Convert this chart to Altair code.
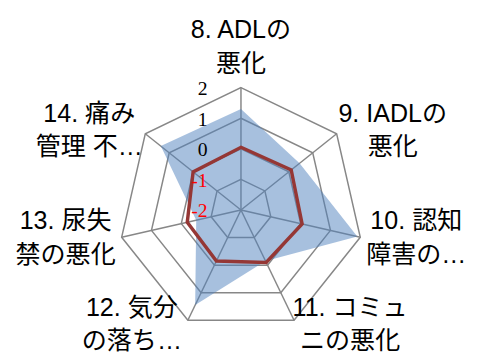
import altair as alt
import pandas as pd
import math

# ---- data ----
categories = ["8. ADLの\n悪化", "9. IADLの\n悪化", "10. 認知\n障害の…", "11. コミュ\nニの悪化",
              "12. 気分\nの落ち…", "13. 尿失\n禁の悪化", "14. 痛み\n管理 不…"]
series_blue = [1.3, 0.45, 1.9, -0.15, 1.45, -0.5, 1.35]
series_red = [0.05, 0.1, 0.05, -0.1, -0.15, -0.2, 0.0]
tick_values = [-2, -1, 0, 1, 2]

N = len(categories)
VMIN = -2

# ---- layout (pixels) ----
W, H = 470, 348
CX, CY = 237, 202.5          # centre of the radar inside the view
K = 124.5 / 4                # pixels per unit
LH = 34                      # label line height

xs = alt.Scale(domain=[-CX / K, (W - CX) / K], nice=False, zero=False)
ys = alt.Scale(domain=[-(H - CY) / K, CY / K], nice=False, zero=False)

ang = f"datum.idx * 2 * PI / {N}"

def pos(r_expr):
    return dict(x=f"({r_expr}) * sin({ang})", y=f"({r_expr}) * cos({ang})")

# grid rings
ring_df = pd.DataFrame([{"level": t, "idx": i} for t in tick_values[1:] for i in range(N)])
rings = alt.Chart(ring_df).transform_calculate(**pos(f"datum.level - {VMIN}")).mark_line(
    interpolate="linear-closed", stroke="#878787", strokeWidth=1.5
).encode(
    x=alt.X("x:Q", scale=xs, axis=None),
    y=alt.Y("y:Q", scale=ys, axis=None),
    detail="level:N",
    order="idx:Q",
)

spoke_df = pd.DataFrame({"idx": list(range(N))})
spokes = alt.Chart(spoke_df).transform_calculate(
    **pos(f"{tick_values[-1]} - {VMIN}"), x0="0", y0="0"
).mark_rule(stroke="#878787", strokeWidth=1.5).encode(
    x=alt.X("x0:Q", scale=xs, axis=None),
    y=alt.Y("y0:Q", scale=ys, axis=None),
    x2="x:Q",
    y2="y:Q",
)

blue_df = pd.DataFrame({"idx": list(range(N)), "value": series_blue})
blue = alt.Chart(blue_df).transform_calculate(**pos(f"datum.value - {VMIN}")).mark_line(
    interpolate="linear-closed", fill="#4f81bd", fillOpacity=0.5, strokeOpacity=0, strokeWidth=0
).encode(
    x=alt.X("x:Q", scale=xs, axis=None),
    y=alt.Y("y:Q", scale=ys, axis=None),
    order="idx:Q",
)

red_df = pd.DataFrame({"idx": list(range(N)), "value": series_red})
red = alt.Chart(red_df).transform_calculate(**pos(f"datum.value - {VMIN}")).mark_line(
    interpolate="linear-closed", stroke="#953735", strokeWidth=3.5, strokeJoin="miter"
).encode(
    x=alt.X("x:Q", scale=xs, axis=None),
    y=alt.Y("y:Q", scale=ys, axis=None),
    order="idx:Q",
)

# category labels
R_OUT = tick_values[-1] - VMIN
lab_df = pd.DataFrame({"idx": list(range(N)), "label": categories})
labels = alt.Chart(lab_df).transform_calculate(
    s=f"sin({ang})", c=f"cos({ang})"
).transform_calculate(
    lx=f"{R_OUT} * datum.s + (abs(datum.s) < 0.01 ? 0 : (datum.s > 0 ? 1 : -1) * {57 / K})",
    ly=f"datum.idx == 0 ? {R_OUT} + {41 / K} : {R_OUT} * datum.c + {5 / K} * datum.c",
).mark_text(
    lineBreak="\n", fontSize=25.5, lineHeight=LH, align="center", baseline="middle",
    dy=-LH / 2, font="Liberation Sans, Noto Sans CJK JP", color="#000000"
).encode(
    x=alt.X("lx:Q", scale=xs, axis=None),
    y=alt.Y("ly:Q", scale=ys, axis=None),
    text="label:N",
)

# radial tick labels
tick_df = pd.DataFrame({"t": tick_values, "txt": [str(v) for v in tick_values]})
ticks = alt.Chart(tick_df).transform_calculate(
    tx=f"{-34 / K}", ty=f"datum.t - {VMIN}"
).mark_text(
    fontSize=20, align="right", baseline="middle", dy=1.5, font="Liberation Serif"
).encode(
    x=alt.X("tx:Q", scale=xs, axis=None),
    y=alt.Y("ty:Q", scale=ys, axis=None),
    text="txt:N",
    color=alt.condition("datum.t < 0", alt.value("#ff0000"), alt.value("#000000")),
)

chart = alt.layer(rings, spokes, blue, red, labels, ticks).properties(
    width=W, height=H, padding=0, autosize="none"
).configure_view(stroke=None)

chart.save("out.html", embed_options={"renderer": "svg", "actions": False})
